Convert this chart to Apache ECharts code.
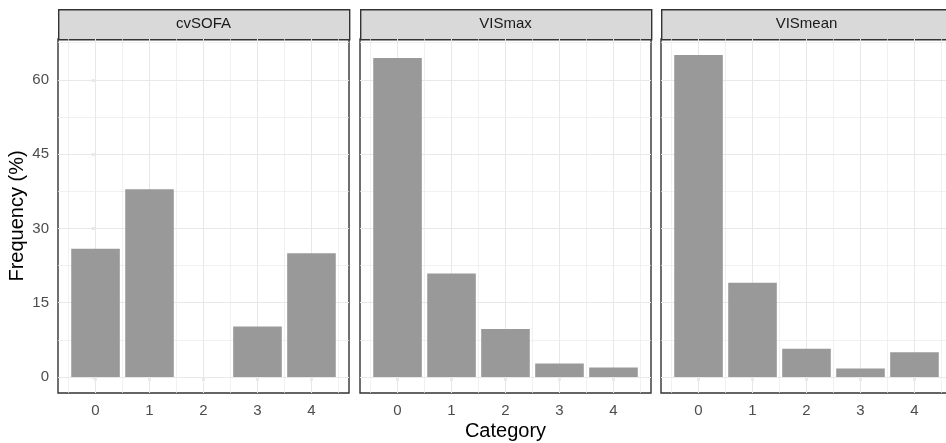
<!DOCTYPE html>
<html>
<head>
<meta charset="utf-8">
<script src="https://cdn.jsdelivr.net/npm/echarts@6/dist/echarts.min.js"></script>
<style>
html,body{margin:0;padding:0;background:#fff;}
#chart{width:946px;height:443px;}
</style>
</head>
<body>
<div id="chart"></div>
<script>
// ---- data ----
const categories = [0, 1, 2, 3, 4];
const panelNames = ['cvSOFA', 'VISmax', 'VISmean'];
const cvSOFA = [25.9, 37.9, 0, 10.2, 25.0];
const VISmax = [64.4, 20.9, 9.7, 2.7, 1.9];
const VISmean = [65.0, 19.0, 5.7, 1.7, 5.0];
const yTickLabels = [0, 15, 30, 45, 60];
const yMinorBreaks = [7.5, 22.5, 37.5, 52.5, 67.5];
const xMinorBreaks = [-0.5, 0.5, 1.5, 2.5, 3.5, 4.5];

const seriesValues = [cvSOFA, VISmax, VISmean];

// ---- layout ----
const FONT = "'Liberation Sans', Arial, Helvetica, sans-serif";
const panelLeft = [58, 360, 661];
const panelWidth = 291;
const panelTop = 39;
const panelHeight = 354;
const stripTop = 9;
const stripHeight = 30;

// ggplot-like expansion
const allVals = [].concat(cvSOFA, VISmax, VISmean);
const yMaxData = Math.max.apply(null, allVals);
const yMin = -0.05 * yMaxData;
const yMax = 1.05 * yMaxData;
const xLo = categories[0] - 0.45, xHi = categories[categories.length - 1] + 0.45;
const xPad = 0.05 * (xHi - xLo);
const xMin = xLo - xPad, xMax = xHi + xPad;

const grids = [], xAxes = [], yAxes = [], series = [], graphics = [];

panelNames.forEach(function (name, i) {
  grids.push({
    left: panelLeft[i], top: panelTop, width: panelWidth, height: panelHeight,
    show: true, backgroundColor: '#ffffff', borderColor: '#333333', borderWidth: 1.4,
    containLabel: false, outerBoundsMode: 'none'
  });
  xAxes.push({
    type: 'value', gridIndex: i, min: xMin, max: xMax,
    axisLine: { show: false },
    axisTick: { show: true, length: 4, lineStyle: { color: '#333333', width: 1.2 }, customValues: categories },
    axisLabel: { show: true, margin: 10, color: '#4d4d4d', fontSize: 15, fontFamily: FONT, customValues: categories },
    splitLine: { show: false },
    name: i === 1 ? 'Category' : '',
    nameLocation: 'middle', nameGap: 28, nameMoveOverlap: false,
    nameTextStyle: { fontSize: 20, color: '#000000', fontFamily: FONT }
  });
  yAxes.push({
    type: 'value', gridIndex: i, min: yMin, max: yMax,
    axisLine: { show: false },
    axisTick: { show: i === 0, length: 4, lineStyle: { color: '#333333', width: 1.2 }, customValues: yTickLabels },
    axisLabel: { show: i === 0, margin: 9, color: '#4d4d4d', fontSize: 15, fontFamily: FONT, customValues: yTickLabels },
    splitLine: { show: false },
    name: i === 0 ? 'Frequency (%)' : '',
    nameLocation: 'middle', nameGap: 31, nameMoveOverlap: false,
    nameTextStyle: { fontSize: 20, color: '#000000', fontFamily: FONT }
  });

  const lines = [];
  categories.forEach(function (v) { lines.push({ xAxis: v, lineStyle: { width: 1, color: '#e8e8e8', type: 'solid' } }); });
  xMinorBreaks.forEach(function (v) { lines.push({ xAxis: v, lineStyle: { width: 0.7, color: '#ebebeb', type: 'solid' } }); });
  yTickLabels.forEach(function (v) { lines.push({ yAxis: v, lineStyle: { width: 1, color: '#e8e8e8', type: 'solid' } }); });
  yMinorBreaks.forEach(function (v) { lines.push({ yAxis: v, lineStyle: { width: 0.7, color: '#ebebeb', type: 'solid' } }); });

  series.push({
    type: 'bar', name: name, xAxisIndex: i, yAxisIndex: i,
    data: categories.map(function (c, k) { return [c, seriesValues[i][k]]; }),
    barWidth: '90%',
    itemStyle: { color: '#999999' },
    z: 3,
    markLine: {
      silent: true, symbol: 'none', z: 1, animation: false,
      label: { show: false },
      emphasis: { disabled: true },
      data: lines
    }
  });

  graphics.push({
    type: 'rect', left: panelLeft[i], top: stripTop,
    shape: { x: 0, y: 0, width: panelWidth, height: stripHeight },
    style: { fill: '#d9d9d9', stroke: '#333333', lineWidth: 1.4 }
  });
  graphics.push({
    type: 'text', x: panelLeft[i] + panelWidth / 2, y: stripTop + stripHeight / 2,
    style: { text: name, textAlign: 'center', textVerticalAlign: 'middle', fontSize: 15, fill: '#1a1a1a', fontFamily: FONT }
  });
});

const chart = echarts.init(document.getElementById('chart'), null, { renderer: 'canvas' });
chart.setOption({
  animation: false,
  backgroundColor: '#ffffff',
  textStyle: { fontFamily: FONT },
  grid: grids,
  xAxis: xAxes,
  yAxis: yAxes,
  series: series,
  graphic: graphics
});
</script>
</body>
</html>
